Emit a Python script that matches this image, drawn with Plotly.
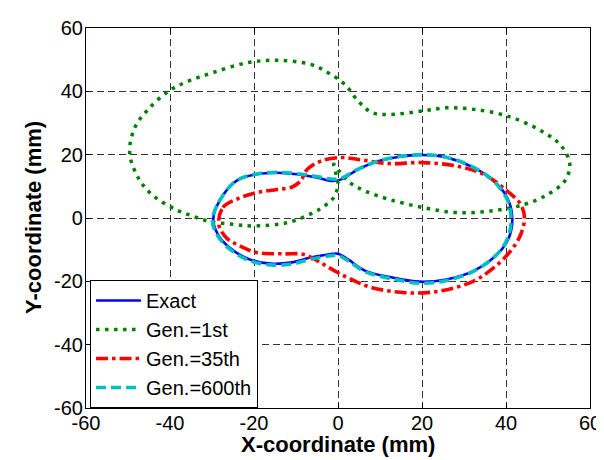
import plotly.graph_objects as go

# ---------------- data (mm) ----------------
exact_x = [-29.7, -28.2, -24.2, -19.4, -14.5, -9.7, -4.8, -1.6, 0.8, 4.8, 9.7, 16.1, 20.2, 25.8,
           32.3, 37.1, 40.3, 41.5, 40.7, 37.9, 32.3, 25.8, 19.4, 12.9, 6.5, 2.4, 0.0, -2.4,
           -6.5, -11.3, -16.1, -21.0, -25.8, -28.6, -29.7]
exact_y = [-0.4, 5.4, 11.7, 13.8, 14.3, 13.8, 12.7, 11.7, 12.2, 15.4, 18.0, 19.6, 19.9, 19.1,
           15.9, 11.7, 6.4, 0.1, -6.2, -11.5, -16.7, -19.4, -20.1, -18.8, -16.7, -13.1, -11.3, -11.5,
           -12.5, -14.1, -14.4, -13.1, -9.4, -5.2, -0.4]

gen1_x = [-49.6, -48.4, -45.2, -40.3, -35.5, -29.8, -21.8, -14.5, -6.5, -2.4, 1.6, 4.8, 8.1,
          12.1, 20.2, 25.8, 32.3, 40.3, 48.4, 53.2, 55.2, 54.0, 50.0, 44.4, 36.3, 28.2, 20.2,
          12.1, 6.5, 3.0, 0.5, -1.0, -0.5, 0.0, -1.0, -3.0, -5.7, -12.1, -20.2, -25.0, -30.6,
          -35.0, -38.7, -44.4, -47.6, -49.6]
gen1_y = [20.6, 28.5, 34.3, 40.1, 43.3, 45.9, 49.0, 49.8, 48.5, 45.9, 42.2, 36.9, 33.3,
          32.7, 33.8, 34.8, 34.3, 32.2, 27.5, 22.7, 16.9, 11.7, 7.5, 4.3, 2.2, 1.7, 3.3,
          5.9, 8.5, 11.0, 14.5, 17.0, 14.0, 10.5, 6.5, 4.0, 1.8, -1.5, -2.5, -2.0, -1.1,
          0.8, 2.7, 7.5, 12.8, 20.6]

gen35_x = [-28.4, -27.4, -24.2, -19.4, -14.5, -10.9, -8.9, -7.3, -4.0, 0.8, 4.8, 12.1, 20.2,
           28.2, 34.7, 40.3, 43.5, 44.4, 43.5, 41.1, 37.1, 32.3, 24.2, 16.1, 8.1, 3.2, -0.8,
           -4.8, -8.1, -12.9, -19.4, -23.4, -26.6, -28.4]
gen35_y = [-2.0, 3.3, 5.9, 8.0, 9.0, 9.8, 11.7, 15.4, 18.0, 19.1, 18.5, 17.2, 17.5,
           16.4, 13.8, 8.5, 4.3, 0.1, -5.2, -10.4, -15.7, -19.9, -23.1, -23.6, -22.0, -19.4, -16.7,
           -13.6, -11.5, -11.3, -10.9, -8.8, -6.2, -2.0]

gen600_x = [-29.9, -28.4, -24.3, -19.4, -14.5, -9.7, -4.8, -1.8, 0.6, 4.8, 9.7, 16.1, 20.2, 25.8,
            32.3, 37.0, 40.1, 41.2, 40.4, 37.6, 32.0, 25.6, 19.4, 12.9, 6.5, 2.4, 0.0, -2.4,
            -6.5, -11.3, -16.1, -21.0, -25.8, -28.7, -29.9]
gen600_y = [-1.0, 5.0, 11.7, 13.9, 14.4, 14.0, 13.0, 12.3, 12.5, 15.4, 18.0, 19.7, 20.0, 19.2,
            16.0, 11.7, 6.4, 0.0, -6.4, -11.8, -17.0, -19.8, -20.6, -19.2, -17.0, -13.5, -11.8, -12.0,
            -13.0, -14.6, -14.8, -13.5, -9.8, -5.5, -1.0]

series_names = ["Exact", "Gen.=1st", "Gen.=35th", "Gen.=600th"]
tick_vals = [-60, -40, -20, 0, 20, 40, 60]

FONT = "Liberation Sans, Arial, sans-serif"

fig = go.Figure()
fig.add_trace(go.Scatter(x=exact_x, y=exact_y, mode="lines", name=series_names[0],
                         line=dict(color="#0000FF", width=2.6, shape="spline", smoothing=1)))
fig.add_trace(go.Scatter(x=gen1_x, y=gen1_y, mode="lines", name=series_names[1],
                         line=dict(color="#008000", width=3.5, dash="3.5px,5.5px",
                                   shape="spline", smoothing=1)))
fig.add_trace(go.Scatter(x=gen35_x, y=gen35_y, mode="lines", name=series_names[2],
                         line=dict(color="#FF0000", width=3.6, dash="12px,4px,3.5px,4px",
                                   shape="spline", smoothing=1)))
fig.add_trace(go.Scatter(x=gen600_x, y=gen600_y, mode="lines", name=series_names[3],
                         line=dict(color="#00BFBF", width=3.6, dash="10px,5px",
                                   shape="spline", smoothing=1)))

axis_common = dict(
    range=[-60, 60], tickvals=tick_vals, ticktext=[str(v) for v in tick_vals],
    showgrid=True, gridcolor="#333333", gridwidth=1, griddash="7px,4px",
    zeroline=False, showline=True, linecolor="black", linewidth=1.2, mirror="ticks",
    ticks="inside", ticklen=5, tickcolor="black", tickwidth=1,
    tickfont=dict(family=FONT, size=20, color="black"),
)

fig.update_layout(
    width=604, height=460,
    margin=dict(l=78, r=22, t=20, b=60, autoexpand=False),
    paper_bgcolor="white", plot_bgcolor="white",
    xaxis=dict(**axis_common, ticklabelstandoff=-3),
    yaxis=dict(**axis_common, ticklabelstandoff=-2),
    showlegend=True,
    legend=dict(x=0.008, y=0, xanchor="left", yanchor="bottom",
                bgcolor="white", bordercolor="black", borderwidth=1,
                font=dict(family=FONT, size=20, color="black"),
                itemwidth=45, tracegroupgap=0),
    annotations=[
        dict(text="X-coordinate (mm)", xref="paper", yref="paper", x=0.5, y=0,
             yshift=-36, xanchor="center", yanchor="middle", showarrow=False,
             font=dict(family=FONT, size=22, color="black", weight="bold")),
        dict(text="Y-coordinate (mm)", xref="paper", yref="paper", x=0, y=0.5,
             xshift=-53, xanchor="center", yanchor="middle", showarrow=False, textangle=-90,
             font=dict(family=FONT, size=22, color="black", weight="bold")),
    ],
)

fig.write_html("out.html")
